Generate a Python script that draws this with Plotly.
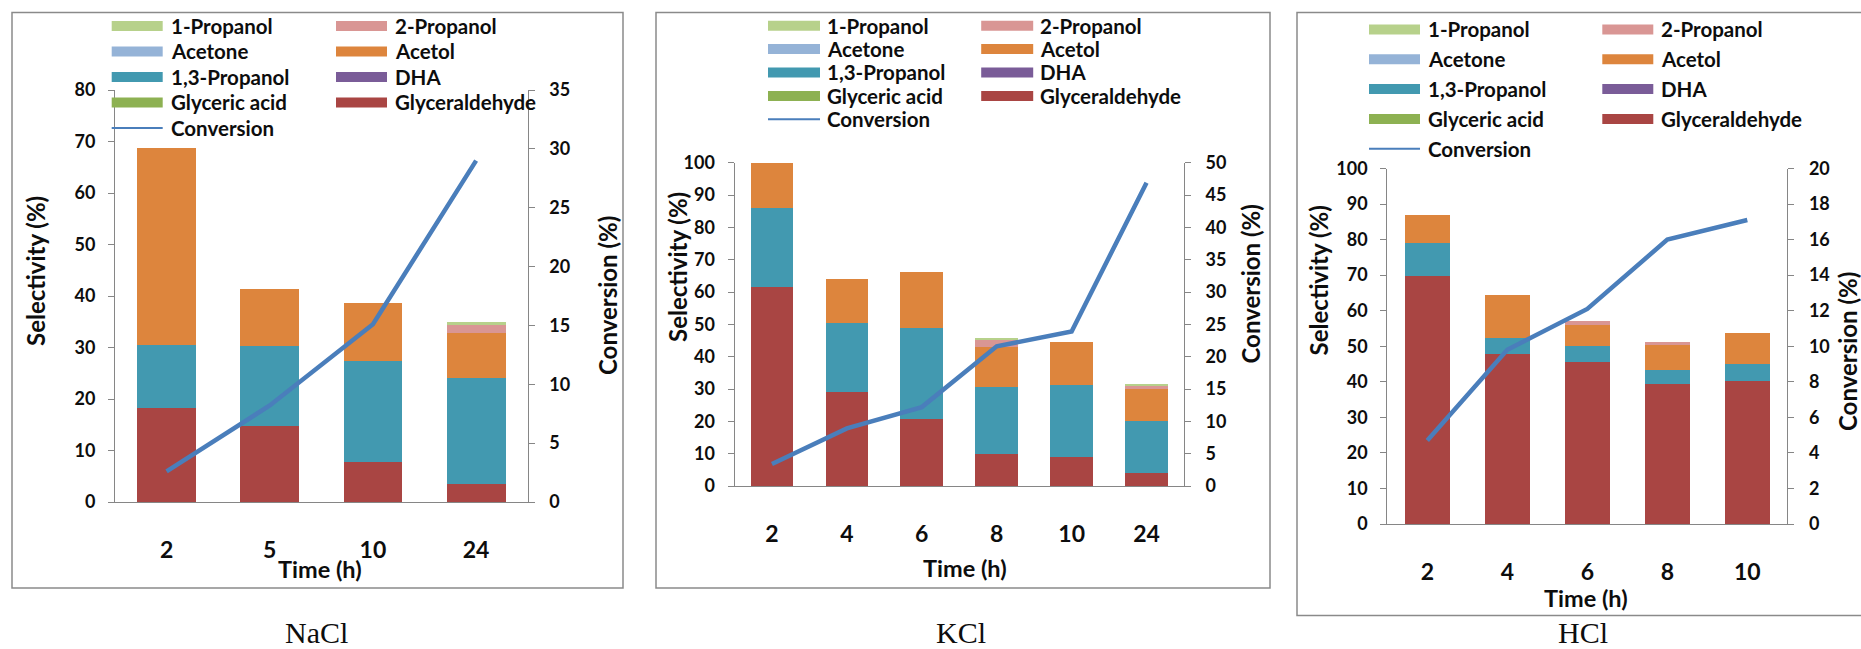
import plotly.graph_objects as go

W, H = 1861, 649

# ---------------- data ----------------
series_names = ["1-Propanol", "2-Propanol", "Acetone", "Acetol", "1,3-Propanol",
                "DHA", "Glyceric acid", "Glyceraldehyde"]
series_colors = ["#B7D18B", "#D99694", "#95B3D7", "#DD853D", "#4299B0",
                 "#7A5C98", "#8DB152", "#A94543"]
conversion_color = "#4A7EBB"

# stacking order bottom -> top
stack_order = ["Glyceraldehyde", "Glyceric acid", "DHA", "1,3-Propanol",
               "Acetol", "Acetone", "2-Propanol", "1-Propanol"]

nacl_time = ["2", "5", "10", "24"]
nacl_glyceraldehyde = [18.3, 14.8, 7.8, 3.4]
nacl_glyceric_acid = [0, 0, 0, 0]
nacl_dha = [0, 0, 0, 0]
nacl_propanediol = [12.2, 15.4, 19.6, 20.6]
nacl_acetol = [38.3, 11.2, 11.3, 8.9]
nacl_acetone = [0, 0, 0, 0]
nacl_2propanol = [0, 0, 0, 1.5]
nacl_1propanol = [0, 0, 0, 0.5]
nacl_conversion = [2.6, 8.2, 15.1, 29.0]

kcl_time = ["2", "4", "6", "8", "10", "24"]
kcl_glyceraldehyde = [61.4, 29.0, 20.6, 9.9, 9.1, 3.9]
kcl_glyceric_acid = [0, 0, 0, 0, 0, 0]
kcl_dha = [0, 0, 0, 0, 0, 0]
kcl_propanediol = [24.7, 21.3, 28.2, 20.6, 22.1, 16.2]
kcl_acetol = [13.7, 13.6, 17.4, 12.4, 13.4, 9.8]
kcl_acetone = [0, 0, 0, 0, 0, 0]
kcl_2propanol = [0, 0, 0, 2.3, 0, 1.3]
kcl_1propanol = [0, 0, 0, 0.7, 0, 0.3]
kcl_conversion = [3.4, 8.9, 12.2, 21.6, 23.9, 46.9]

hcl_time = ["2", "4", "6", "8", "10"]
hcl_glyceraldehyde = [69.7, 47.7, 45.5, 39.3, 40.1]
hcl_glyceric_acid = [0, 0, 0, 0, 0]
hcl_dha = [0, 0, 0, 0, 0]
hcl_propanediol = [9.4, 4.7, 4.7, 4.1, 5.0]
hcl_acetol = [7.9, 11.9, 5.7, 6.9, 8.5]
hcl_acetone = [0, 0, 0, 0, 0]
hcl_2propanol = [0, 0, 1.1, 1.0, 0]
hcl_1propanol = [0, 0, 0, 0, 0]
hcl_conversion = [4.7, 9.8, 12.1, 16.0, 17.1]

panel_labels = ["NaCl", "KCl", "HCl"]
sel_ranges = [80, 100, 100]
sel_dticks = [10, 10, 10]
conv_ranges = [35, 50, 20]
conv_dticks = [5, 5, 2]

# ---------------- layout geometry (pixels) ----------------
panels = [
    dict(time=nacl_time, vals={"Glyceraldehyde": nacl_glyceraldehyde, "Glyceric acid": nacl_glyceric_acid,
                               "DHA": nacl_dha, "1,3-Propanol": nacl_propanediol, "Acetol": nacl_acetol,
                               "Acetone": nacl_acetone, "2-Propanol": nacl_2propanol, "1-Propanol": nacl_1propanol},
         conv=nacl_conversion,
         plot=(115, 527.7, 90, 502), border=(12, 623, 12.4, 588),
         leg=(111.7, 51, 169, 336, 392.7, 26, 25.5),
         sel_t=(35, 271), conv_t=(607, 296), time_t=(320, 569), lab=(316, 632)),
    dict(time=kcl_time, vals={"Glyceraldehyde": kcl_glyceraldehyde, "Glyceric acid": kcl_glyceric_acid,
                              "DHA": kcl_dha, "1,3-Propanol": kcl_propanediol, "Acetol": kcl_acetol,
                              "Acetone": kcl_acetone, "2-Propanol": kcl_2propanol, "1-Propanol": kcl_1propanol},
         conv=kcl_conversion,
         plot=(734.5, 1184, 162.7, 486), border=(656, 1270, 12.4, 588),
         leg=(768, 52, 825.3, 981.2, 1038.4, 25.7, 23.4),
         sel_t=(677, 267), conv_t=(1249.5, 284), time_t=(965, 568), lab=(961, 632)),
    dict(time=hcl_time, vals={"Glyceraldehyde": hcl_glyceraldehyde, "Glyceric acid": hcl_glyceric_acid,
                              "DHA": hcl_dha, "1,3-Propanol": hcl_propanediol, "Acetol": hcl_acetol,
                              "Acetone": hcl_acetone, "2-Propanol": hcl_2propanol, "1-Propanol": hcl_1propanol},
         conv=hcl_conversion,
         plot=(1387.3, 1787.3, 168.5, 524), border=(1297, 1870, 12.4, 615.5),
         leg=(1369, 51, 1426.4, 1602.3, 1658.5, 29.5, 29.8),
         sel_t=(1319.4, 280), conv_t=(1847, 352), time_t=(1585.8, 598), lab=(1583, 632.5)),
]


def fx(x):
    return x / W


def fy(y):
    return 1 - y / H


color_of = dict(zip(series_names, series_colors))
FONT = "Lato"
AX_COLOR = "#868686"
TXT = "#0d0d0d"

fig = go.Figure()
layout = dict(
    template="none",
    width=W, height=H, autosize=False,
    margin=dict(l=0, r=0, t=0, b=0, pad=0, autoexpand=False),
    paper_bgcolor="white", plot_bgcolor="rgba(0,0,0,0)",
    barmode="stack", bargap=0.43, showlegend=False,
    font=dict(family=FONT, color=TXT),
)
shapes = []
annotations = []

for i, p in enumerate(panels):
    n = i + 1
    xname = "x" if n == 1 else f"x{n}"
    yl = 2 * i + 1
    yr = 2 * i + 2
    ylname = "y" if yl == 1 else f"y{yl}"
    yrname = f"y{yr}"
    x0, x1, ytop, ybot = p["plot"]

    for name in stack_order:
        fig.add_trace(go.Bar(x=p["time"], y=p["vals"][name], name=name,
                             marker=dict(color=color_of[name], line=dict(width=0)),
                             xaxis=xname, yaxis=ylname))
    fig.add_trace(go.Scatter(x=p["time"], y=p["conv"], name="Conversion", mode="lines",
                             line=dict(color=conversion_color, width=4.5),
                             xaxis=xname, yaxis=yrname))

    xkey = "xaxis" if n == 1 else f"xaxis{n}"
    ylkey = "yaxis" if yl == 1 else f"yaxis{yl}"
    yrkey = f"yaxis{yr}"
    layout[xkey] = dict(domain=[fx(x0), fx(x1)], anchor=ylname, type="category", automargin=False,
                        showline=True, linecolor=AX_COLOR, linewidth=1, ticks="",
                        showgrid=False, zeroline=False, ticklabelstandoff=27,
                        tickfont=dict(family=FONT, size=23, color=TXT, weight="bold"))
    layout[ylkey] = dict(domain=[fy(ybot), fy(ytop)], anchor=xname, range=[0, sel_ranges[i]],
                         automargin=False,
                         dtick=sel_dticks[i], tick0=0, showline=True, linecolor=AX_COLOR, linewidth=1,
                         ticks="outside", ticklen=6, tickcolor=AX_COLOR, showgrid=False,
                         zeroline=False, ticklabelstandoff=9,
                         tickfont=dict(family=FONT, size=18, color=TXT, weight="bold"))
    layout[yrkey] = dict(domain=[fy(ybot), fy(ytop)], anchor=xname, overlaying=ylname, side="right",
                         automargin=False,
                         range=[0, conv_ranges[i]], dtick=conv_dticks[i], tick0=0,
                         showline=True, linecolor=AX_COLOR, linewidth=1,
                         ticks="outside", ticklen=6, tickcolor=AX_COLOR, showgrid=False,
                         zeroline=False, ticklabelstandoff=11,
                         tickfont=dict(family=FONT, size=18, color=TXT, weight="bold"))

    # panel border
    bx0, bx1, by0, by1 = p["border"]
    shapes.append(dict(type="rect", xref="paper", yref="paper",
                       x0=fx(bx0), x1=fx(bx1), y0=fy(by1), y1=fy(by0),
                       line=dict(color="#8a8a8a", width=1.5), fillcolor="rgba(0,0,0,0)", layer="below"))

    # legend (two columns, Excel style)
    c1x, sw, c1t, c2x, c2t, r0, dr = p["leg"]
    legend_items = series_names + ["Conversion"]
    for k, name in enumerate(legend_items):
        row, col = divmod(k, 2)
        yc = r0 + row * dr
        sx = c1x if col == 0 else c2x
        tx = c1t if col == 0 else c2t
        if name == "Conversion":
            shapes.append(dict(type="line", xref="paper", yref="paper",
                               x0=fx(sx), x1=fx(sx + sw), y0=fy(yc), y1=fy(yc),
                               line=dict(color=conversion_color, width=2)))
        else:
            shapes.append(dict(type="rect", xref="paper", yref="paper",
                               x0=fx(sx), x1=fx(sx + sw), y0=fy(yc + 5), y1=fy(yc - 5),
                               line=dict(width=0), fillcolor=color_of[name]))
        annotations.append(dict(text=name, x=fx(tx), y=fy(yc), xref="paper", yref="paper",
                                xanchor="left", yanchor="middle", showarrow=False,
                                font=dict(family=FONT, size=20.5, color=TXT, weight="bold")))

    # axis titles and panel label
    annotations.append(dict(text="Selectivity (%)", x=fx(p["sel_t"][0]), y=fy(p["sel_t"][1]),
                            xref="paper", yref="paper", textangle=-90, showarrow=False,
                            xanchor="center", yanchor="middle",
                            font=dict(family=FONT, size=24, color=TXT, weight="bold")))
    annotations.append(dict(text="Conversion (%)", x=fx(p["conv_t"][0]), y=fy(p["conv_t"][1]),
                            xref="paper", yref="paper", textangle=-90, showarrow=False,
                            xanchor="center", yanchor="middle",
                            font=dict(family=FONT, size=24, color=TXT, weight="bold")))
    annotations.append(dict(text="Time (h)", x=fx(p["time_t"][0]), y=fy(p["time_t"][1]),
                            xref="paper", yref="paper", showarrow=False,
                            xanchor="center", yanchor="middle",
                            font=dict(family=FONT, size=23.5, color=TXT, weight="bold")))
    annotations.append(dict(text=panel_labels[i], x=fx(p["lab"][0]), y=fy(p["lab"][1]),
                            xref="paper", yref="paper", showarrow=False,
                            xanchor="center", yanchor="middle",
                            font=dict(family="Liberation Serif", size=30, color=TXT)))

layout["shapes"] = shapes
layout["annotations"] = annotations
fig.update_layout(**layout)
fig.write_html("out.html")
